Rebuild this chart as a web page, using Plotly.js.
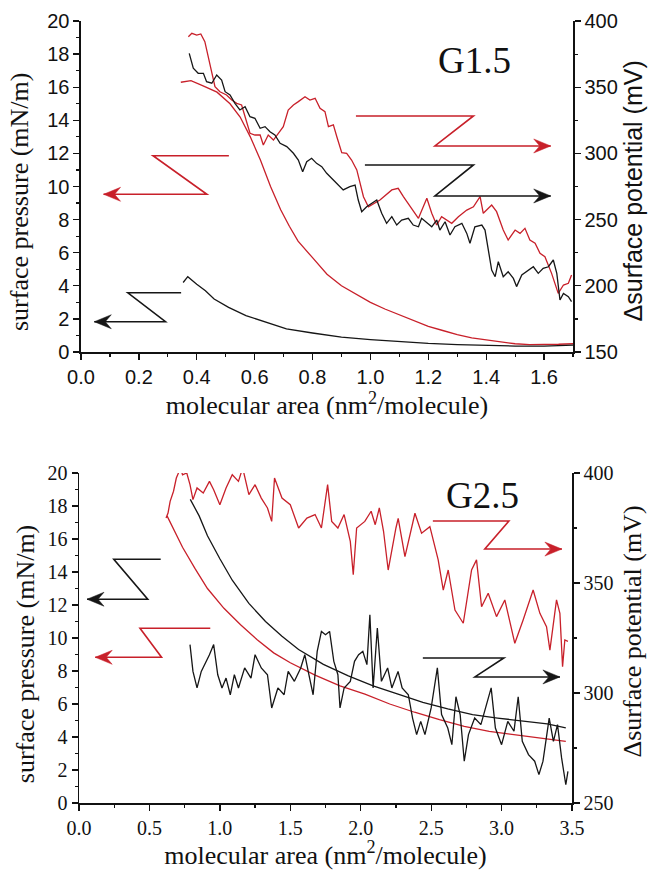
<!DOCTYPE html>
<html>
<head>
<meta charset="utf-8">
<script src="https://cdn.plot.ly/plotly-3.0.1.min.js"></script>
<style>html,body{margin:0;padding:0;background:#fff}#chart{width:649px;height:870px}</style>
</head>
<body>
<div id="chart"></div>
<script>
// ---------- G1.5 (top panel) ----------
const g15PressRedX = [0.345,0.38,0.42,0.47,0.515,0.55,0.585,0.62,0.655,0.69,0.72,0.75,0.8,0.85,0.9,0.95,1.0,1.05,1.1,1.15,1.2,1.25,1.3,1.35,1.4,1.45,1.5,1.55,1.6,1.65,1.7];
const g15PressRedY = [16.3,16.4,16.1,15.7,15.0,14.2,13.0,11.6,10.0,8.6,7.6,6.7,5.7,4.7,4.0,3.5,3.0,2.6,2.25,1.9,1.55,1.3,1.05,0.85,0.72,0.6,0.5,0.45,0.45,0.47,0.5];
const g15PressBlackX = [0.353,0.369,0.40,0.43,0.46,0.51,0.57,0.64,0.71,0.8,0.9,1.0,1.1,1.2,1.3,1.4,1.5,1.6,1.7];
const g15PressBlackY = [4.2,4.55,4.1,3.7,3.2,2.7,2.2,1.78,1.4,1.15,0.9,0.75,0.62,0.52,0.45,0.4,0.36,0.36,0.42];
const g15PotRedX = [0.371,0.383,0.400,0.414,0.428,0.440,0.452,0.463,0.480,0.503,0.521,0.538,0.555,0.570,0.584,0.601,0.619,0.630,0.647,0.665,0.682,0.699,0.716,0.734,0.751,0.774,0.791,0.809,0.826,0.843,0.855,0.872,0.884,0.901,0.918,0.935,0.953,0.964,0.976,0.993,1.016,1.033,1.074,1.096,1.114,1.137,1.166,1.195,1.212,1.229,1.246,1.281,1.304,1.333,1.356,1.379,1.390,1.419,1.436,1.459,1.476,1.500,1.517,1.534,1.551,1.569,1.586,1.603,1.626,1.649,1.667,1.684,1.695];
const g15PotRedY = [388.1,390.7,389.4,390.2,384.4,373,360.5,350.4,346.6,344.1,340.3,337.8,336.6,325.2,315.2,313.9,313.9,306.3,313.9,310.1,315.2,320.2,332.8,336.6,339.1,342.8,340.3,341.6,334,331.5,320.2,321.5,312.6,300.5,300.1,295,287.5,277.4,267.3,259.7,262.3,264.8,272.4,273.6,267.3,259.7,251,266.1,254.8,245.9,252.2,247.2,252.2,257.2,259.7,267.3,254.8,261,256,242.1,234.6,242.1,239.6,243.4,234.6,232.1,224.5,222,209.4,194.3,200.6,201.9,208.2];
const g15PotBlackX = [0.374,0.388,0.405,0.423,0.434,0.452,0.469,0.486,0.498,0.515,0.532,0.549,0.567,0.584,0.601,0.619,0.636,0.653,0.670,0.688,0.711,0.734,0.751,0.766,0.780,0.797,0.814,0.832,0.849,0.866,0.884,0.906,0.929,0.947,0.958,0.970,0.987,1.022,1.039,1.056,1.074,1.091,1.108,1.131,1.148,1.166,1.177,1.212,1.229,1.240,1.258,1.275,1.292,1.316,1.333,1.344,1.361,1.385,1.396,1.407,1.419,1.431,1.442,1.459,1.476,1.494,1.505,1.523,1.546,1.563,1.580,1.597,1.615,1.632,1.644,1.655,1.667,1.684,1.695];
const g15PotBlackY = [375.6,364.3,360.5,360.5,354.2,353,359.2,355.4,346.6,344.1,337.8,332.8,335.3,327.7,326.5,319,320.2,316.4,313.9,307.6,305.1,300.1,295,286.2,293.7,296.3,292.5,290,285,281,277.4,272.4,274.9,276.1,264.8,256,259.7,264.8,254.8,247.2,252.2,245.9,249.7,251,245.9,244.6,251,244.6,249.7,242.1,248.4,238.4,244.6,247.2,239.6,232.1,244.6,245.9,242.1,227,211.9,206.9,218.2,206.9,210.6,205.6,199.4,208.2,211.9,214.4,209.4,213.2,214.4,219.5,209.4,189.3,194.3,191.8,188];

// ---------- G2.5 (bottom panel) ----------
const g25PressRedX = [0.625,0.676,0.735,0.824,0.912,1.029,1.147,1.265,1.382,1.5,1.676,1.853,2.03,2.206,2.382,2.559,2.735,2.912,3.088,3.265,3.456];
const g25PressRedY = [17.4,16.5,15.5,14.2,13.0,11.8,10.8,9.9,9.1,8.5,7.75,7.1,6.6,6.0,5.5,5.05,4.65,4.34,4.14,3.94,3.74];
const g25PressBlackX = [0.79,0.853,0.912,1.0,1.088,1.206,1.324,1.441,1.559,1.735,1.912,2.088,2.265,2.441,2.618,2.794,2.971,3.147,3.324,3.456];
const g25PressBlackY = [18.4,17.4,16.2,14.8,13.5,12.1,11.0,10.1,9.3,8.4,7.7,7.1,6.6,6.1,5.7,5.35,5.15,4.99,4.79,4.55];
const g25PotRedX = [0.618,0.632,0.647,0.671,0.691,0.721,0.735,0.765,0.788,0.809,0.838,0.882,0.926,0.956,1.0,1.044,1.088,1.132,1.162,1.206,1.25,1.294,1.338,1.368,1.388,1.441,1.5,1.559,1.618,1.676,1.721,1.765,1.794,1.838,1.882,1.926,1.947,1.971,2.029,2.074,2.103,2.132,2.162,2.195,2.25,2.266,2.314,2.353,2.385,2.432,2.491,2.55,2.586,2.621,2.669,2.728,2.787,2.822,2.858,2.905,2.964,3.023,3.094,3.153,3.224,3.272,3.319,3.343,3.39,3.414,3.433,3.449,3.471];
const g25PotRedY = [379.5,381.8,387.1,391.7,397.7,402.3,399.2,400,394.7,387.9,393.2,390.9,396.2,392.4,385.6,393.2,399.2,396.2,402.3,390.2,394.7,388.6,384.1,378,397.7,388.6,385.6,375,379.5,381.1,375,394.7,378,375,381.1,368.9,353.8,375,378,382.6,376.5,384.1,373.5,355.9,375,379.4,362,373.5,381.7,372.6,375.6,360.5,346.8,355.9,337.7,331.7,355.9,360.5,339.2,345.3,334.7,342.3,322.6,333.2,346.8,336.2,330.1,319.5,342.3,336.2,312,324.1,323.5];
const g25PotBlackX = [0.788,0.809,0.838,0.868,0.926,0.956,0.985,1.015,1.044,1.074,1.103,1.132,1.176,1.221,1.25,1.294,1.338,1.368,1.412,1.456,1.485,1.529,1.574,1.603,1.632,1.662,1.691,1.721,1.75,1.779,1.809,1.838,1.853,1.882,1.926,1.956,1.985,2.015,2.044,2.065,2.088,2.118,2.147,2.191,2.221,2.265,2.294,2.338,2.368,2.397,2.426,2.456,2.5,2.544,2.574,2.618,2.647,2.676,2.706,2.735,2.765,2.809,2.853,2.897,2.926,2.956,3.0,3.044,3.088,3.118,3.147,3.191,3.235,3.265,3.294,3.338,3.368,3.397,3.426,3.456,3.471];
const g25PotBlackY = [322,309.8,302.3,309.8,317.4,322,308.3,302.3,306.8,299.2,308.3,302.3,311.4,306.8,317.4,311.4,308.3,293.2,302.3,299.2,309.8,305.3,311.4,317.4,308.3,299.2,318.9,328,326.5,328,314.4,308.3,293.2,302.3,305.3,314.4,317.4,318.9,312.9,335.6,302.3,329.5,305.3,311.4,302.3,309.8,302.3,299.2,288.6,281.1,287.1,281.1,293.2,311.4,290.2,284.1,276.5,298.3,290.2,269,281.1,288.6,285.6,296.2,302.3,284.1,276.5,287.1,282.6,298.3,278,272,269,262.9,269,288.6,278,285.6,270.5,258.3,264.4];

const RED = '#c8202a', BLACK = '#161616';
const SERIF = 'Liberation Serif';
const SANS = 'Liberation Sans';

function line(x, y, xa, ya, color, w) {
  return {x: x, y: y, xaxis: xa, yaxis: ya, type: 'scatter', mode: 'lines',
          line: {color: color, width: w || 1.3}, hoverinfo: 'skip', showlegend: false};
}
const data = [
  line(g15PressRedX, g15PressRedY, 'x', 'y', RED),
  line(g15PressBlackX, g15PressBlackY, 'x', 'y', BLACK),
  line(g15PotRedX, g15PotRedY, 'x', 'y2', RED),
  line(g15PotBlackX, g15PotBlackY, 'x', 'y2', BLACK),
  line(g25PressRedX, g25PressRedY, 'x2', 'y3', RED),
  line(g25PressBlackX, g25PressBlackY, 'x2', 'y3', BLACK),
  line(g25PotRedX, g25PotRedY, 'x2', 'y4', RED),
  line(g25PotBlackX, g25PotBlackY, 'x2', 'y4', BLACK)
];

// Z-shaped pointer arrows: [x_start, x_turn1, x_turn2, x_tip, y_top, y_bottom, color, xref, yref]
const zArrows = [
  [0.511, 0.249, 0.435, 0.078, 11.86, 9.53, RED, 'x', 'y'],
  [0.346, 0.162, 0.292, 0.046, 3.58, 1.83, BLACK, 'x', 'y'],
  [0.950, 1.356, 1.223, 1.623, 14.26, 12.45, RED, 'x', 'y'],
  [0.981, 1.356, 1.223, 1.623, 11.30, 9.43, BLACK, 'x', 'y'],
  [0.580, 0.247, 0.488, 0.057, 14.77, 12.35, BLACK, 'x2', 'y3'],
  [0.932, 0.433, 0.586, 0.115, 10.59, 8.83, RED, 'x2', 'y3'],
  [2.512, 3.052, 2.881, 3.428, 17.09, 15.39, RED, 'x2', 'y3'],
  [2.441, 3.016, 2.811, 3.414, 8.79, 7.64, BLACK, 'x2', 'y3']
];
const shapes = [];
zArrows.forEach(a => {
  const [x0, x1, x2, x3, yt, yb, c, xr, yr] = a;
  shapes.push({type: 'path', xref: xr, yref: yr,
    path: `M ${x0} ${yt} L ${x1} ${yt} L ${x2} ${yb} L ${x3} ${yb}`,
    line: {color: c, width: 1.6}});
  const dir = x3 > x2 ? 1 : -1;
  shapes.push({type: 'path', xref: xr, yref: yr, xsizemode: 'pixel', ysizemode: 'pixel',
    xanchor: x3, yanchor: yb,
    path: `M 0 0 L ${-17*dir} 7 L ${-11*dir} 0 L ${-17*dir} -7 Z`,
    fillcolor: c, line: {color: c, width: 0.5}});
});

function axisCommon(extra) {
  return Object.assign({
    showgrid: false, zeroline: false, showline: true, linecolor: '#111', linewidth: 1.5,
    ticks: 'outside', ticklen: 6, tickwidth: 1.3, tickcolor: '#111',
    fixedrange: true
  }, extra);
}
const ttl = (t, fam, standoff) => ({text: t, standoff: standoff, font: {family: fam, size: 26, color: '#111'}});
const minorT = (d) => ({dtick: d, ticklen: 3, ticks: 'outside', tickcolor: '#111', tickwidth: 1.2});
const yTitle = (t, x, y, fam, size) => ({xref: 'paper', yref: 'paper', x: x, y: y, text: t,
  textangle: -90, showarrow: false, xanchor: 'center', yanchor: 'middle',
  font: {family: fam, size: size, color: '#111'}});

const layout = {
  width: 649, height: 870,
  margin: {l: 79, r: 76, t: 21, b: 67},
  paper_bgcolor: '#fff', plot_bgcolor: '#fff',
  font: {family: SERIF, color: '#111'},
  showlegend: false,
  xaxis: axisCommon({domain: [0.004, 1], anchor: 'y', range: [0, 1.7], dtick: 0.2, tick0: 0, tickformat: '.1f',
    minor: minorT(0.1), tickfont: {family: SANS, size: 20, color: '#111'},
    title: ttl('molecular area (nm<sup>2</sup>/molecule)', SERIF, 1)}),
  yaxis: axisCommon({domain: [0.5767, 1], anchor: 'x', range: [0, 20], dtick: 2,
    minor: minorT(1), tickfont: {family: SANS, size: 20, color: '#111'}}),
  yaxis2: axisCommon({overlaying: 'y', side: 'right', anchor: 'x', range: [150, 400], dtick: 50,
    minor: minorT(25), tickfont: {family: SANS, size: 20, color: '#111'}}),
  xaxis2: axisCommon({domain: [0, 0.998], anchor: 'y3', range: [0, 3.5], dtick: 0.5, tick0: 0, tickformat: '.1f',
    minor: minorT(0.25), tickfont: {family: SERIF, size: 20, color: '#111'},
    title: ttl('molecular area (nm<sup>2</sup>/molecule)', SERIF, 6)}),
  yaxis3: axisCommon({domain: [0, 0.422], anchor: 'x2', range: [0, 20], dtick: 2,
    minor: minorT(1), tickfont: {family: SERIF, size: 20, color: '#111'}}),
  yaxis4: axisCommon({overlaying: 'y3', side: 'right', anchor: 'x2', range: [250, 400], dtick: 50,
    minor: minorT(25), tickfont: {family: SERIF, size: 20, color: '#111'}}),
  shapes: shapes,
  annotations: [
    yTitle('surface pressure (mN/m)', -0.1215, 0.7685, SERIF, 26),
    yTitle('\u0394surface potential (mV)', 1.121, 0.783, SANS, 25),
    yTitle('surface pressure (mN/m)', -0.109, 0.1905, SERIF, 26),
    yTitle('\u0394surface potential (mV)', 1.121, 0.219, SERIF, 26),
    {xref: 'x', yref: 'y', x: 1.358, y: 17.6, text: 'G1.5', showarrow: false,
     font: {family: SERIF, size: 37, color: '#111'}, xanchor: 'center', yanchor: 'middle'},
    {xref: 'x2', yref: 'y3', x: 2.867, y: 18.65, text: 'G2.5', showarrow: false,
     font: {family: SERIF, size: 37, color: '#111'}, xanchor: 'center', yanchor: 'middle'}
  ]
};

Plotly.newPlot('chart', data, layout, {displayModeBar: false, staticPlot: true});
</script>
</body>
</html>
